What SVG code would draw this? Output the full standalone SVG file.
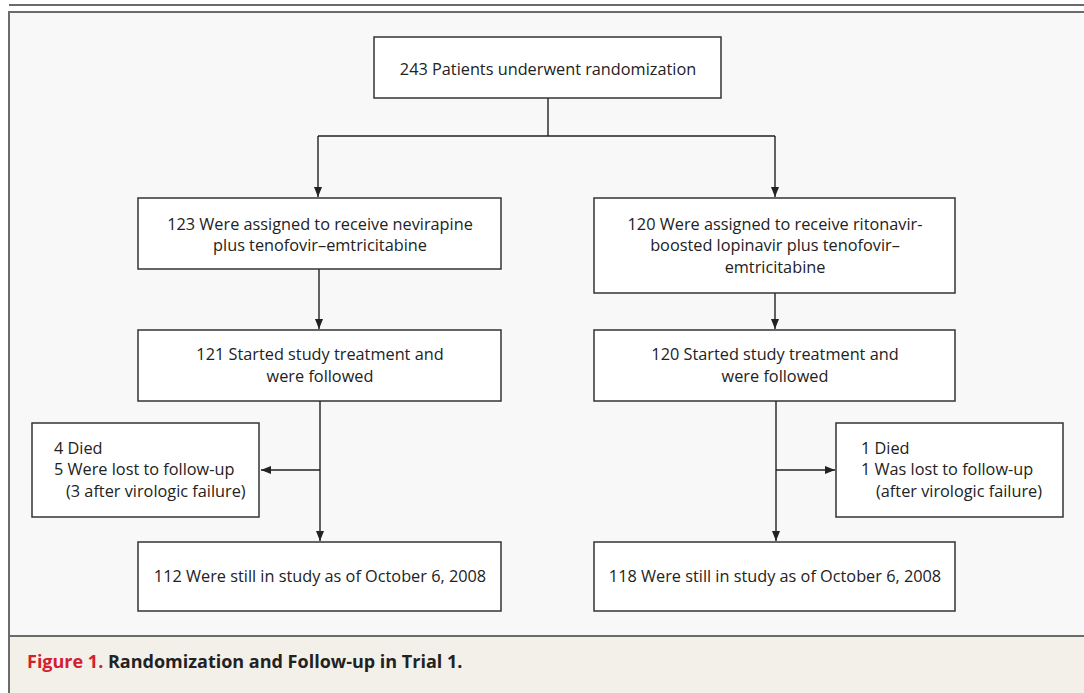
<svg xmlns="http://www.w3.org/2000/svg" width="1084" height="693" viewBox="0 0 1084 693">
<defs>
<marker id="ah" markerWidth="10" markerHeight="10" refX="10" refY="5" orient="auto" markerUnits="userSpaceOnUse">
<path d="M0,1 L10,5 L0,9 Z" fill="#222"/>
</marker>
<style>
.box{fill:#fff;stroke:#333;stroke-width:1.5}
.t{font-family:"Open Sans","Noto Sans",sans-serif;font-size:16.3px;fill:#222}
.c{text-anchor:middle}
.con{fill:none;stroke:#222;stroke-width:1.4}
.cap{font-family:"Open Sans","Noto Sans",sans-serif;font-size:18px;font-weight:bold}
</style>
</defs>
<rect x="0" y="0" width="1084" height="693" fill="#fff"/>
<line x1="9" y1="5" x2="1084" y2="5" stroke="#6b6b6b" stroke-width="2"/>
<rect x="9" y="12" width="1085" height="624" fill="#f8f8f8" stroke="#6b6b6b" stroke-width="2"/>
<rect x="9" y="636" width="1085" height="60" fill="#f3f0ea" stroke="#6b6b6b" stroke-width="2"/>

<g id="connectors">
<path class="con" d="M548,98 V136 M318,136 H775"/>
<path class="con" d="M318,136 V197" marker-end="url(#ah)"/>
<path class="con" d="M775,136 V197" marker-end="url(#ah)"/>
<path class="con" d="M319,269 V329" marker-end="url(#ah)"/>
<path class="con" d="M775,293 V329" marker-end="url(#ah)"/>
<path class="con" d="M320,401 V541" marker-end="url(#ah)"/>
<path class="con" d="M320,470 H261" marker-end="url(#ah)"/>
<path class="con" d="M776,401 V541" marker-end="url(#ah)"/>
<path class="con" d="M776,470 H835" marker-end="url(#ah)"/>
</g>

<g id="n1">
<rect class="box" x="374" y="37" width="347" height="61"/>
<text class="t c" x="548" y="75">243 Patients underwent randomization</text>
</g>
<g id="n2">
<rect class="box" x="138" y="198" width="363" height="71"/>
<text class="t c" x="320" y="230">123 Were assigned to receive nevirapine</text>
<text class="t c" x="320" y="251">plus tenofovir–emtricitabine</text>
</g>
<g id="n3">
<rect class="box" x="594" y="198" width="361" height="95"/>
<text class="t c" x="775" y="230">120 Were assigned to receive ritonavir-</text>
<text class="t c" x="775" y="251">boosted lopinavir plus tenofovir–</text>
<text class="t c" x="775" y="273">emtricitabine</text>
</g>
<g id="n4">
<rect class="box" x="138" y="330" width="363" height="71"/>
<text class="t c" x="320" y="360">121 Started study treatment and</text>
<text class="t c" x="320" y="382">were followed</text>
</g>
<g id="n5">
<rect class="box" x="594" y="330" width="361" height="71"/>
<text class="t c" x="775" y="360">120 Started study treatment and</text>
<text class="t c" x="775" y="382">were followed</text>
</g>
<g id="n6">
<rect class="box" x="32" y="423" width="227" height="94"/>
<text class="t" x="54" y="454">4 Died</text>
<text class="t" x="54" y="475">5 Were lost to follow-up</text>
<text class="t" x="66" y="497">(3 after virologic failure)</text>
</g>
<g id="n7">
<rect class="box" x="836" y="423" width="227" height="94"/>
<text class="t" x="861" y="454">1 Died</text>
<text class="t" x="861" y="475">1 Was lost to follow-up</text>
<text class="t" x="876" y="497">(after virologic failure)</text>
</g>
<g id="n8">
<rect class="box" x="138" y="542" width="363" height="69"/>
<text class="t c" x="320" y="582">112 Were still in study as of October 6, 2008</text>
</g>
<g id="n9">
<rect class="box" x="594" y="542" width="361" height="69"/>
<text class="t c" x="775" y="582">118 Were still in study as of October 6, 2008</text>
</g>

<text class="cap" x="27" y="668"><tspan fill="#d3202f">Figure 1.</tspan><tspan fill="#222"> Randomization and Follow-up in Trial 1.</tspan></text>
</svg>
